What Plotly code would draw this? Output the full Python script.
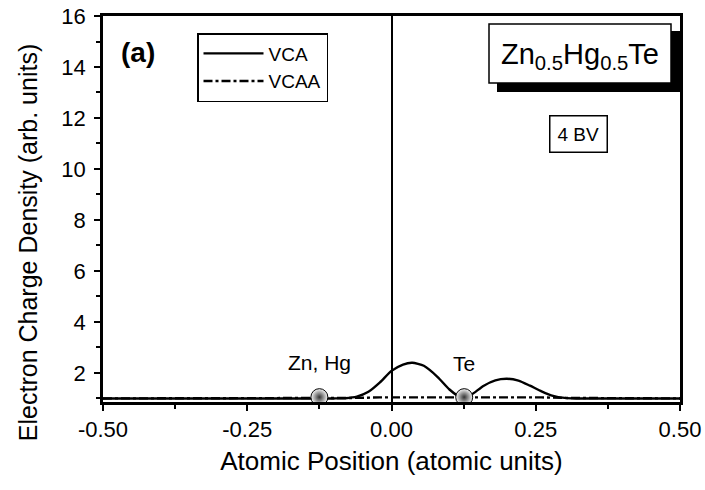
import plotly.graph_objects as go

# Electron charge density along the bond, 4 band-valence (BV) states
x_vca = [-0.50, -0.10, -0.08, -0.06, -0.04, -0.02, 0.00, 0.02, 0.036, 0.056,
         0.08, 0.10, 0.115, 0.126, 0.14, 0.16, 0.18, 0.20, 0.22, 0.24,
         0.26, 0.28, 0.30, 0.32, 0.50]
y_vca = [1.00, 1.00, 1.01, 1.07, 1.26, 1.63, 2.08, 2.33, 2.40, 2.28,
         1.84, 1.36, 1.10, 1.00, 1.17, 1.50, 1.71, 1.77, 1.70, 1.50,
         1.28, 1.10, 1.02, 1.00, 1.00]

x_vcaa = [-0.50, -0.10, -0.06, -0.02, 0.02, 0.06, 0.10, 0.14, 0.18, 0.22, 0.26, 0.30, 0.50]
y_vcaa = [1.00, 1.00, 1.02, 1.04, 1.05, 1.05, 1.04, 1.04, 1.05, 1.05, 1.04, 1.02, 1.00]

# Atom sites
atom_x = [-0.125, 0.126]
atom_y = [1.05, 1.05]
atom_labels = ["Zn, Hg", "Te"]
atom_label_y = [2.42, 2.38]

x_tickvals = [-0.50, -0.25, 0.00, 0.25, 0.50]
x_ticktext = ["-0.50", "-0.25", "0.00", "0.25", "0.50"]
y_tickvals = [2, 4, 6, 8, 10, 12, 14, 16]

FONT = "Liberation Sans, Arial, sans-serif"

# plot-area geometry in pixels, used to place boxes in paper units
L, R, T, B = 103, 680, 16, 401.7


def px(xp):
    return (xp - L) / (R - L)


def py(yp):
    return (B - yp) / (B - T)


fig = go.Figure()
fig.add_trace(go.Scatter(x=x_vca, y=y_vca, mode="lines", name="VCA",
                         line=dict(color="black", width=2.4, shape="spline", smoothing=0.6)))
fig.add_trace(go.Scatter(x=x_vcaa, y=y_vcaa, mode="lines", name="VCAA",
                         line=dict(color="black", width=2.4, dash="9px,3px,3px,3px")))
fig.add_trace(go.Scatter(x=atom_x, y=atom_y, mode="markers", showlegend=False,
                         marker=dict(size=17, color="#f8f8f8",
                                     gradient=dict(type="radial", color="#333333"),
                                     line=dict(width=1, color="#000000"))))

for lx, ly, txt in zip(atom_x, atom_label_y, atom_labels):
    fig.add_annotation(x=lx, y=ly, text=txt, showarrow=False,
                       xanchor="center", yanchor="middle",
                       font=dict(family=FONT, size=21, color="black"))

# compound label box with drop shadow
fig.add_shape(type="rect", xref="paper", yref="paper",
              x0=px(497), x1=px(680), y0=py(92), y1=py(31),
              fillcolor="black", line=dict(width=0), layer="above")
fig.add_shape(type="rect", xref="paper", yref="paper",
              x0=px(489), x1=px(671), y0=py(83), y1=py(24),
              fillcolor="white", line=dict(color="black", width=1.5), layer="above")
fig.add_annotation(xref="paper", yref="paper", x=px(580), y=py(56),
                   xanchor="center", yanchor="middle",
                   text="Zn<sub>0.5</sub>Hg<sub>0.5</sub>Te", showarrow=False,
                   font=dict(family=FONT, size=29, color="black"))

fig.add_annotation(xref="paper", yref="paper", x=px(578.7), y=py(134.2),
                   xanchor="center", yanchor="middle",
                   text="4 BV", showarrow=False,
                   bordercolor="black", borderwidth=1.5, borderpad=7, bgcolor="white",
                   font=dict(family=FONT, size=19, color="black"))

fig.add_annotation(xref="paper", yref="paper", x=px(138), y=py(52),
                   xanchor="center", yanchor="middle",
                   text="<b>(a)</b>", showarrow=False,
                   font=dict(family=FONT, size=28, color="black"))

# y-axis title, placed a little below the plot centre
fig.add_annotation(xref="paper", yref="paper", x=px(28), y=py(243),
                   xanchor="center", yanchor="middle", textangle=-90,
                   text="Electron Charge Density (arb. units)", showarrow=False,
                   font=dict(family=FONT, size=25, color="black"))

axis_common = dict(showline=True, linecolor="black", linewidth=2.5, mirror=True,
                   ticks="outside", tickcolor="black", tickwidth=2, ticklen=6,
                   showgrid=False, automargin=False,
                   tickfont=dict(family=FONT, size=22, color="black"))

fig.update_xaxes(range=[-0.5, 0.5], tickvals=x_tickvals, ticktext=x_ticktext,
                 zeroline=True, zerolinecolor="black", zerolinewidth=2,
                 minor=dict(tickvals=[-0.375, -0.125, 0.125, 0.375], ticks="outside",
                            ticklen=4, tickwidth=2, tickcolor="black"),
                 ticklabelstandoff=0,
                 title=dict(text="Atomic Position (atomic units)", standoff=11,
                            font=dict(family=FONT, size=26, color="black")),
                 **axis_common)
fig.update_yaxes(range=[0.86, 16], tickvals=y_tickvals, zeroline=False,
                 minor=dict(tickvals=[1, 3, 5, 7, 9, 11, 13, 15], ticks="outside",
                            ticklen=4, tickwidth=2, tickcolor="black"),
                 ticklabelstandoff=4,
                 **axis_common)

fig.update_layout(width=705, height=490, autosize=False,
                  margin=dict(l=L, r=705 - R, t=T, b=490 - B),
                  paper_bgcolor="white", plot_bgcolor="white",
                  legend=dict(x=px(197), y=py(33), xanchor="left", yanchor="top",
                              bordercolor="black", borderwidth=1.5, bgcolor="white",
                              font=dict(family=FONT, size=19, color="black"),
                              tracegroupgap=0, itemwidth=60))

fig.write_html("out.html")
